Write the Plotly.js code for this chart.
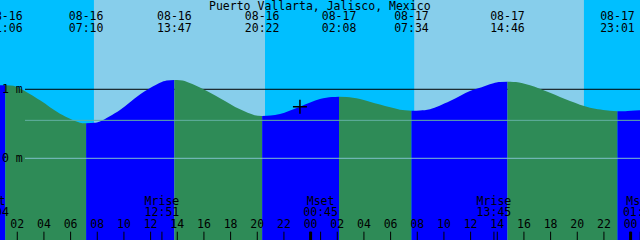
<!DOCTYPE html>
<html><head><meta charset="utf-8">
<script src="https://cdn.plot.ly/plotly-3.0.1.min.js"></script>
<style>html,body{margin:0;padding:0;background:#00BFFF}#chart{width:640px;height:240px}</style>
</head><body><div id="chart"></div>
<script>
// Time in hours since 08-16 00:00 (local). Heights in metres.
const stationName = "Puerto Vallarta, Jalisco, Mexico";
const curveHours = [0.705, 1.1, 1.7, 2.205, 3.705, 5.205, 6.705, 7.167,
  7.767, 8.205, 9.705, 11.2, 12.705, 13.2, 13.783,
  14.4, 15.93, 17.205, 18.705, 19.8, 20.367,
  21.0, 21.705, 23.2, 24.7, 25.6, 26.133,
  26.7, 27.705, 29.2, 30.705, 31.567,
  32.2, 32.955, 34.455, 35.955, 36.705, 37.83, 38.2, 38.767,
  39.4, 40.455, 41.955, 43.455, 44.955, 46.455, 47.017,
  47.6, 48.705];
const curveHeights = [1.058, 1.06, 1.052, 1.01, 0.84, 0.645, 0.515, 0.507,
  0.514, 0.535, 0.70, 0.925, 1.095, 1.128, 1.135,
  1.128, 1.005, 0.872, 0.71, 0.625, 0.613,
  0.62, 0.642, 0.748, 0.858, 0.887, 0.893,
  0.889, 0.86, 0.778, 0.705, 0.69,
  0.694, 0.712, 0.83, 0.975, 1.023, 1.096, 1.106, 1.11,
  1.104, 1.058, 0.951, 0.83, 0.733, 0.69, 0.681,
  0.683, 0.696];

const extremeHours = [1.1, 7.167, 13.783, 20.367, 26.133, 31.567, 38.767, 47.017];
const extremeDates = ["08-16", "08-16", "08-16", "08-16", "08-17", "08-17", "08-17", "08-17"];
const extremeTimes = ["01:06", "07:10", "13:47", "20:22", "02:08", "07:34", "14:46", "23:01"];

const sunriseHours = [7.75, 31.77];
const sunsetHours = [20.58, 44.5];

const moonHours = [0.067, 12.85, 24.75, 37.75, 48.72];
const moonNames = ["Mset", "Mrise", "Mset", "Mrise", "Mset"];
const moonTimes = ["00:04", "12:51", "00:45", "13:45", "01:04"];

const tickHours = [2, 4, 6, 8, 10, 12, 14, 16, 18, 20, 22, 24, 26, 28, 30, 32, 34, 36, 38, 40, 42, 44, 46, 48];
const tickLabels = ["02", "04", "06", "08", "10", "12", "14", "16", "18", "20", "22", "00", "02", "04", "06", "08", "10", "12", "14", "16", "18", "20", "22", "00"];
const midnightHours = [24, 48];

const depthLevels = [0, 1];
const depthLabels = ["0 m", "1 m"];
const markLevel = 0.55;
const nowHour = 23.2, nowHeight = 0.748;

// ---- styles
const NIGHT = "#00BFFF", DAY = "#87CEEB", FALL = "#2E8B57", RISE = "#0000FF";
const FONT = {family: "DejaVu Sans Mono", size: 11.5, color: "#000"};
const BASE = -1.5;

const traces = [];
// tide fill segments between extremes
const bounds = [curveHours[0]].concat(extremeHours, [curveHours[curveHours.length - 1]]);
for (let s = 0; s < bounds.length - 1; s++) {
  const a = bounds[s], b = bounds[s + 1];
  const xs = [], ys = [];
  curveHours.forEach((h, i) => { if (h >= a - 1e-9 && h <= b + 1e-9) { xs.push(h); ys.push(curveHeights[i]); } });
  const col = ys[ys.length - 1] > ys[0] ? RISE : FALL;
  traces.push({x: [a, b], y: [BASE, BASE], mode: "lines", line: {width: 0}, hoverinfo: "skip", showlegend: false});
  traces.push({x: xs, y: ys, mode: "lines", line: {width: 0, shape: "spline", smoothing: 1}, fill: "tonexty", fillcolor: col, hoverinfo: "skip", showlegend: false});
}
// now marker
traces.push({x: [nowHour], y: [nowHeight], mode: "markers", marker: {symbol: "cross-thin", size: 10, line: {width: 1.5, color: "#000"}}, showlegend: false});
// header labels (dates / times of extremes)
const rowY = f => 1 - f / 240;
traces.push({x: extremeHours, y: extremeHours.map(() => rowY(17)), yaxis: "y2", mode: "text", text: extremeDates, textfont: FONT, textposition: "middle center", showlegend: false, cliponaxis: true});
traces.push({x: extremeHours, y: extremeHours.map(() => rowY(29)), yaxis: "y2", mode: "text", text: extremeTimes, textfont: FONT, textposition: "middle center", showlegend: false, cliponaxis: true});
// moon labels
traces.push({x: moonHours, y: moonHours.map(() => rowY(202)), yaxis: "y2", mode: "text", text: moonNames, textfont: FONT, textposition: "middle center", showlegend: false, cliponaxis: true});
traces.push({x: moonHours, y: moonHours.map(() => rowY(213.5)), yaxis: "y2", mode: "text", text: moonTimes, textfont: FONT, textposition: "middle center", showlegend: false, cliponaxis: true});
// tick labels
traces.push({x: tickHours, y: tickHours.map(() => rowY(225.5)), yaxis: "y2", mode: "text", text: tickLabels, textfont: FONT, textposition: "middle center", showlegend: false, cliponaxis: true});

const shapes = [];
sunriseHours.forEach((r, i) => shapes.push({type: "rect", xref: "x", yref: "paper", x0: r, x1: sunsetHours[i], y0: 0, y1: 1, fillcolor: DAY, line: {width: 0}, layer: "below"}));
shapes.push({type: "line", xref: "paper", yref: "y", x0: 25 / 640, x1: 1, y0: depthLevels[1], y1: depthLevels[1], line: {color: "#000", width: 1}, layer: "below"});
shapes.push({type: "line", xref: "paper", yref: "y", x0: 25 / 640, x1: 1, y0: markLevel, y1: markLevel, line: {color: "#62B0A2", width: 1}, layer: "above"});
shapes.push({type: "line", xref: "paper", yref: "y", x0: 25 / 640, x1: 1, y0: depthLevels[0], y1: depthLevels[0], line: {color: "#80C0CC", width: 1}, layer: "above"});
tickHours.forEach(h => shapes.push({type: "line", xref: "x", yref: "paper", x0: h, x1: h, y0: 0, y1: 8.3 / 240, line: {color: "#000", width: 1}, layer: "above"}));
midnightHours.forEach(h => shapes.push({type: "line", xref: "x", yref: "paper", x0: h, x1: h, y0: 0, y1: 8.3 / 240, line: {color: "#000", width: 3}, layer: "above"}));
moonHours.forEach(h => shapes.push({type: "line", xref: "x", yref: "paper", x0: h, x1: h, y0: 0, y1: 8.3 / 240, line: {color: "#000", width: 1}, layer: "above"}));

const annotations = [{text: stationName, xref: "paper", yref: "paper", x: 0.5, y: rowY(6), xanchor: "center", yanchor: "middle", showarrow: false, font: FONT}];
depthLevels.forEach((v, i) => annotations.push({text: depthLabels[i], xref: "paper", yref: "y", x: 0, y: v, xanchor: "left", yanchor: "middle", showarrow: false, font: FONT}));

const layout = {
  width: 640, height: 240, margin: {l: 0, r: 0, t: 0, b: 0},
  paper_bgcolor: NIGHT, plot_bgcolor: NIGHT,
  xaxis: {range: [0.705, 48.705], showgrid: false, zeroline: false, showticklabels: false, ticks: "", showline: false},
  yaxis: {range: [-1.184, 2.294], showgrid: false, zeroline: false, showticklabels: false, ticks: "", showline: false},
  yaxis2: {range: [0, 1], overlaying: "y", showgrid: false, zeroline: false, showticklabels: false, visible: false},
  shapes: shapes, annotations: annotations, showlegend: false
};
Plotly.newPlot("chart", traces, layout, {staticPlot: true, displayModeBar: false});
</script></body></html>
